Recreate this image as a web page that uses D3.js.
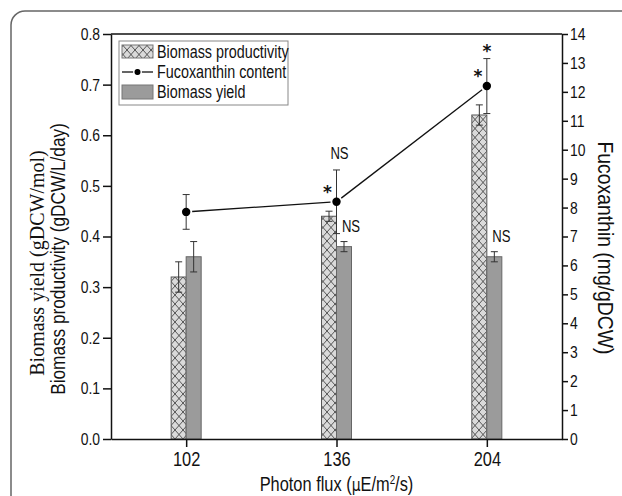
<!DOCTYPE html>
<html>
<head>
<meta charset="utf-8">
<script src="https://cdn.jsdelivr.net/npm/d3@7"></script>
<style>
  body { margin: 0; background: #fff; }
  svg { display: block; }
  text { font-family: "Liberation Sans", Arial, sans-serif; fill: #111; }
</style>
</head>
<body>
<svg id="chart"></svg>
<script>
const categories = ["102", "136", "204"];
const productivity = [0.32, 0.44, 0.64];
const productivityErr = [0.03, 0.01, 0.02];
const biomassYield = [0.36, 0.38, 0.36];
const biomassYieldErr = [0.03, 0.01, 0.01];
const fucoxanthin = [7.85, 8.2, 12.2];
const fucoxanthinErr = [0.6, 1.1, 0.95];
const leftTicks = [0, 0.1, 0.2, 0.3, 0.4, 0.5, 0.6, 0.7, 0.8];
const rightTicks = d3.range(0, 15);
const legendLabels = ["Biomass productivity", "Fucoxanthin content", "Biomass yield"];
// significance marks: which category, which series, and where relative to it
const marks = [
  { cat: "136", series: "fuco", where: "above", text: "NS" },
  { cat: "136", series: "fuco", where: "left", text: "*" },
  { cat: "136", series: "yield", where: "above", text: "NS" },
  { cat: "204", series: "fuco", where: "above", text: "*" },
  { cat: "204", series: "fuco", where: "left", text: "*" },
  { cat: "204", series: "yield", where: "above", text: "NS" }
];

const W = 622, H = 496;
const margin = { top: 34, left: 111, right: 60, bottom: 57 };
const width = W - margin.left - margin.right;
const height = H - margin.top - margin.bottom;

const svg = d3.select("#chart").attr("width", W).attr("height", H);

// no narrow font installed, so squeeze the sans text horizontally
function narrow(sel, k = 0.82) {
  sel.each(function () {
    const t = d3.select(this);
    const tx = +t.attr("x") || 0, ty = +t.attr("y") || 0;
    const tr = t.attr("transform") || "";
    t.attr("x", null).attr("y", null)
      .attr("transform", `${tr} translate(${tx},${ty}) scale(${k},1)`);
  });
}

// outer rounded frame (runs off the right and bottom edges)
svg.append("rect")
  .attr("x", 11).attr("y", 11)
  .attr("width", W + 20).attr("height", H + 20)
  .attr("rx", 14)
  .attr("fill", "none").attr("stroke", "#666").attr("stroke-width", 1.5);

const defs = svg.append("defs");
const pat = defs.append("pattern")
  .attr("id", "hatch").attr("patternUnits", "userSpaceOnUse")
  .attr("width", 8).attr("height", 9);
pat.append("rect").attr("width", 8).attr("height", 9).attr("fill", "#dadada");
pat.append("path").attr("d", "M0,0L8,9M8,0L0,9")
  .attr("stroke", "#333").attr("stroke-width", 0.8);

const g = svg.append("g").attr("transform", `translate(${margin.left},${margin.top})`);

const x = d3.scalePoint().domain(categories).range([0, width]).padding(0.5);
const yL = d3.scaleLinear().domain([0, 0.8]).range([height, 0]);
const yR = d3.scaleLinear().domain([0, 14]).range([height, 0]);
const barW = 15;

// bars
const bars = categories.map((c, i) => ({ c, p: productivity[i], pe: productivityErr[i], y: biomassYield[i], ye: biomassYieldErr[i] }));

g.selectAll(".bp").data(bars).join("rect")
  .attr("x", d => x(d.c) - barW).attr("width", barW)
  .attr("y", d => yL(d.p)).attr("height", d => height - yL(d.p))
  .attr("fill", "url(#hatch)").attr("stroke", "#555").attr("stroke-width", 1);

g.selectAll(".by").data(bars).join("rect")
  .attr("x", d => x(d.c)).attr("width", barW)
  .attr("y", d => yL(d.y)).attr("height", d => height - yL(d.y))
  .attr("fill", "#9b9b9b").attr("stroke", "#666").attr("stroke-width", 1);

function errBar(sel, cx, top, bot, cap) {
  sel.append("line").attr("x1", cx).attr("x2", cx).attr("y1", top).attr("y2", bot);
  sel.append("line").attr("x1", cx - cap).attr("x2", cx + cap).attr("y1", top).attr("y2", top);
  sel.append("line").attr("x1", cx - cap).attr("x2", cx + cap).attr("y1", bot).attr("y2", bot);
}
const eg = g.append("g").attr("stroke", "#333").attr("stroke-width", 1);
bars.forEach(d => {
  errBar(eg, x(d.c) - barW / 2, yL(d.p + d.pe), yL(d.p - d.pe), 3.5);
  errBar(eg, x(d.c) + barW / 2, yL(d.y + d.ye), yL(d.y - d.ye), 3.5);
});

// fucoxanthin line with gaps near markers
const pts = categories.map((c, i) => ({ c, x: x(c), y: yR(fucoxanthin[i]), v: fucoxanthin[i], e: fucoxanthinErr[i] }));
const gap = 6;
for (let i = 0; i < pts.length - 1; i++) {
  const a = pts[i], b = pts[i + 1];
  const dx = b.x - a.x, dy = b.y - a.y, L = Math.hypot(dx, dy);
  g.append("line")
    .attr("x1", a.x + dx / L * gap).attr("y1", a.y + dy / L * gap)
    .attr("x2", b.x - dx / L * gap).attr("y2", b.y - dy / L * gap)
    .attr("stroke", "#111").attr("stroke-width", 1.3);
}
pts.forEach(d => errBar(eg, d.x, yR(d.v + d.e), yR(d.v - d.e), 3.5));
g.selectAll(".pt").data(pts).join("circle")
  .attr("cx", d => d.x).attr("cy", d => d.y).attr("r", 4.2)
  .attr("fill", "#000");

// significance marks
marks.forEach(m => {
  const i = categories.indexOf(m.cat);
  const star = m.text === "*";
  let tx, ty;
  if (m.series === "fuco") {
    if (m.where === "above") { tx = x(m.cat) + (star ? 0 : 3); ty = yR(fucoxanthin[i] + fucoxanthinErr[i]) - (star ? 2 : 11); }
    else { tx = x(m.cat) - 9; ty = yR(fucoxanthin[i]) - 4; }
  } else {
    tx = x(m.cat) + barW / 2 + 7; ty = yL(biomassYield[i] + biomassYieldErr[i]) - 10;
  }
  const t = g.append("text").attr("x", tx).attr("y", ty)
    .attr("text-anchor", "middle")
    .style("font-family", star ? "'DejaVu Sans', sans-serif" : null)
    .style("font-size", star ? "17px" : "16px")
    .style("font-weight", star ? "bold" : null)
    .text(m.text);
  if (!star) narrow(t);
});

// axes
const axL = g.append("g").call(d3.axisLeft(yL).tickValues(leftTicks).tickFormat(d3.format(".1f")).tickSize(8).tickSizeOuter(0));
const axR = g.append("g").attr("transform", `translate(${width},0)`)
  .call(d3.axisRight(yR).tickValues(rightTicks).tickSize(6).tickSizeOuter(0));
const axB = g.append("g").attr("transform", `translate(0,${height})`)
  .call(d3.axisBottom(x).tickSize(8).tickSizeOuter(0));
g.append("line").attr("x1", 0).attr("x2", width).attr("y1", 0).attr("y2", 0)
  .attr("stroke", "#111").attr("stroke-width", 1.5);

[axL, axR, axB].forEach(a => {
  a.selectAll("path, line").attr("stroke", "#111").attr("stroke-width", 1.5);
  a.selectAll("text").style("font-family", "'Liberation Sans', sans-serif").attr("fill", "#111");
});
axL.selectAll("text").style("font-size", "17px").attr("x", -11);
axR.selectAll("text").style("font-size", "17px").attr("x", 8);
axB.selectAll("text").style("font-size", "20px").attr("y", 13);
narrow(axL.selectAll("text"));
narrow(axR.selectAll("text"));
narrow(axB.selectAll("text"));

// axis titles
svg.append("text")
  .attr("transform", "translate(44,263) rotate(-90)")
  .attr("text-anchor", "middle")
  .style("font-family", "'Liberation Serif', 'DejaVu Serif', 'Noto Serif', serif").style("font-size", "20px")
  .text("Biomass yield (gDCW/mol)");
narrow(svg.append("text")
  .attr("transform", "translate(65,259) rotate(-90)")
  .attr("text-anchor", "middle")
  .style("font-size", "21px")
  .text("Biomass productivity (gDCW/L/day)"));
narrow(svg.append("text")
  .attr("transform", "translate(598,248) rotate(90)")
  .attr("text-anchor", "middle")
  .style("font-size", "22px")
  .text("Fucoxanthin (mg/gDCW)"), 0.88);
const xt = svg.append("text")
  .attr("x", margin.left + width / 2).attr("y", 491)
  .attr("text-anchor", "middle")
  .style("font-size", "20px");
xt.append("tspan").text("Photon flux (");
xt.append("tspan").style("font-family", "'DejaVu Sans', sans-serif").style("font-size", "17px").text("µ");
xt.append("tspan").text("E/m");
xt.append("tspan").attr("dy", -7).style("font-size", "12px").text("2");
xt.append("tspan").attr("dy", 7).text("/s)");
narrow(xt);

// legend
const lg = svg.append("g").attr("transform", "translate(119,41)");
lg.append("rect").attr("width", 169).attr("height", 64)
  .attr("fill", "#fff").attr("stroke", "#888").attr("stroke-width", 1);
const rowY = [11, 31, 51];
lg.append("rect").attr("x", 3).attr("y", rowY[0] - 7).attr("width", 31).attr("height", 13)
  .attr("fill", "url(#hatch)").attr("stroke", "#777");
lg.append("line").attr("x1", 3).attr("x2", 34).attr("y1", rowY[1]).attr("y2", rowY[1])
  .attr("stroke", "#111").attr("stroke-width", 1.3);
lg.append("circle").attr("cx", 18.5).attr("cy", rowY[1]).attr("r", 3.5).attr("fill", "#000")
  .attr("stroke", "#fff").attr("stroke-width", 2);
lg.append("circle").attr("cx", 18.5).attr("cy", rowY[1]).attr("r", 3).attr("fill", "#000");
lg.append("rect").attr("x", 3).attr("y", rowY[2] - 7).attr("width", 31).attr("height", 14)
  .attr("fill", "#9b9b9b").attr("stroke", "#777");
narrow(lg.selectAll(".lt").data(legendLabels).join("text")
  .attr("x", 38).attr("y", (d, i) => rowY[i] + 6)
  .style("font-size", "17.5px")
  .text(d => d));
</script>
</body>
</html>
